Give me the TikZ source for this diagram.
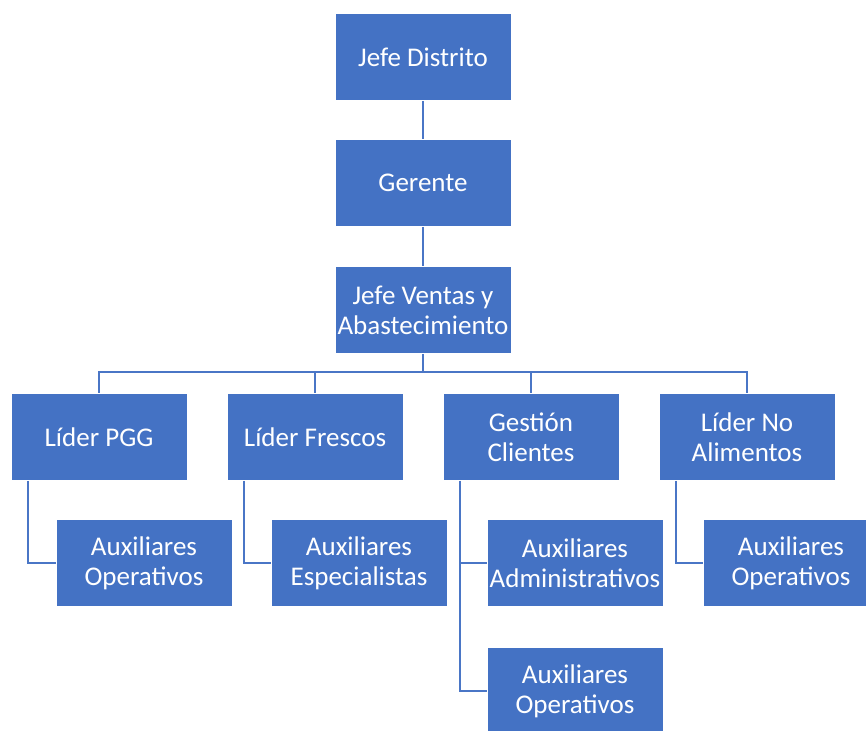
\documentclass[tikz,border=0pt]{standalone}
\usepackage{fontspec}
\setmainfont{Carlito}
\usepackage{xcolor}
\usepackage{tikz}
\usetikzlibrary{positioning,calc}
\definecolor{boxblue}{HTML}{4472C4}
\definecolor{lineblue}{HTML}{4A76C6}

\begin{document}
\begin{tikzpicture}[
    x=1pt, y=-1pt,
    cell/.style={rectangle, draw=white, line width=0.8pt, fill=boxblue, text=white,
        minimum width=176pt, minimum height=87pt, inner sep=0pt, align=center,
        font=\fontsize{27}{30}\selectfont},
    link/.style={draw=lineblue, line width=2pt}
]
    \useasboundingbox (0,0) rectangle (866,730);
    \clip (0,0) rectangle (866,730);

    % Top chain
    \node[cell] (jefe) at (423,57) {Jefe Distrito};
    \node[cell] (gerente) at (423,183) {Gerente};
    \node[cell] (ventas) at (423,310) {Jefe Ventas y\\Abastecimiento};

    % Leaders
    \foreach \name/\x/\txt in {pgg/99/Líder PGG, frescos/315/Líder Frescos,
        gestion/531/Gestión\\Clientes, noalim/747/Líder No\\Alimentos} {
        \node[cell] (\name) at (\x,437) {\txt};
    }

    % Auxiliaries
    \node[cell] (auxpgg) at (144,563) {Auxiliares\\Operativos};
    \node[cell] (auxfre) at (359,563) {Auxiliares\\Especialistas};
    \node[cell] (auxadm) at (575,563) {Auxiliares\\Administrativos};
    \node[cell] (auxges) at (575,691) {Auxiliares\\Operativos};
    \node[cell] (auxnoa) at (791,563) {Auxiliares\\Operativos};

    % Connectors
    \coordinate (bus) at (423,372);
    \draw[link] (jefe) -- (gerente);
    \draw[link] (gerente) -- (ventas);
    \draw[link] (ventas) -- (bus);
    \foreach \name in {pgg,frescos,gestion,noalim} {
        \draw[link] (bus) -| (\name.north);
    }
    \draw[link] ([xshift=17pt]pgg.south west) |- (auxpgg.west);
    \draw[link] ([xshift=17pt]frescos.south west) |- (auxfre.west);
    \draw[link] ([xshift=17pt]gestion.south west) |- (auxadm.west);
    \draw[link] ([xshift=17pt]gestion.south west) |- (auxges.west);
    \draw[link] ([xshift=17pt]noalim.south west) |- (auxnoa.west);
\end{tikzpicture}
\end{document}
